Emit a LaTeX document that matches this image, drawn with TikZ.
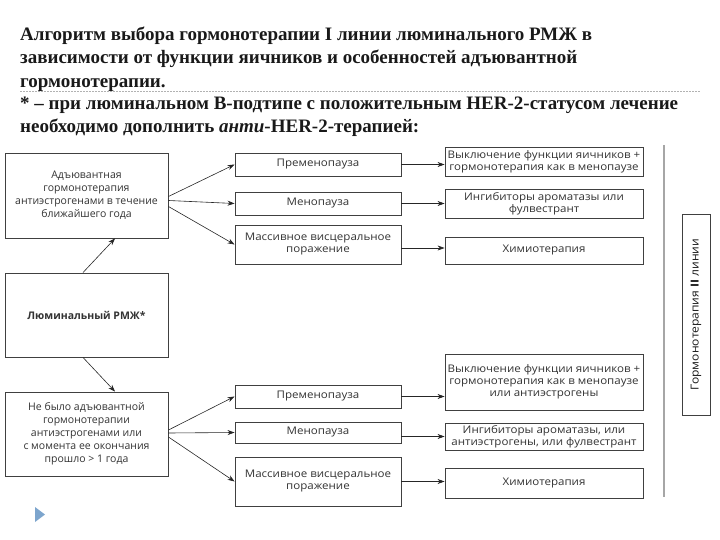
\documentclass[tikz,border=0pt]{standalone}
\usepackage{fontspec}
\setmainfont{Liberation Serif}
\newfontfamily\boxfont{Open Sans}
\newfontfamily\wideboxfont[FakeStretch=1.1]{Open Sans}
\usepackage{tikz}
\usetikzlibrary{arrows.meta}
\definecolor{navblue}{RGB}{125,165,205}
\tikzstyle{box}   = [draw=black!75, line width=0.9pt, fill=white, text=black!80, font=\wideboxfont\fontsize{10.5}{12}\selectfont, align=center, inner sep=1pt]
\tikzstyle{leftbox} = [box, font=\boxfont\fontsize{10.5}{13}\selectfont]
\tikzstyle{arrow} = [line width=0.6pt, black!85, -{Stealth[length=7pt,width=5pt]}]
\tikzstyle{heading} = [font=\bfseries\fontsize{19}{23.5}\selectfont, align=left, anchor=north west, inner sep=0pt, text=black!90]

\begin{document}
\begin{tikzpicture}[x=1pt,y=-1pt]
		\useasboundingbox (0,0) rectangle (720,540);

		% heading
		\node[heading] (title) at (20,26.5) {Алгоритм выбора гормонотерапии I линии люминального РМЖ в\\зависимости от функции яичников и особенностей адъювантной\\гормонотерапии.};
		\node[heading] (note) at (20,96.5) {* – при люминальном B-подтипе с положительным HER-2-статусом лечение\\необходимо дополнить \textit{анти}-HER-2-терапией:};
		\draw[gray!60, dash pattern=on 2pt off 1pt] (20,91) -- (700,91);

		% left column
		\node[leftbox, minimum width=163, minimum height=85] (adj) at (86.5,195.5) {Адъювантная\\гормонотерапия\\антиэстрогенами в течение\\ближайшего года};
		\node[leftbox, minimum width=163, minimum height=84] (lum) at (86.5,315) {\bfseries Люминальный РМЖ*};
		\node[leftbox, minimum width=163, minimum height=84] (noadj) at (86.5,434) {Не было адъювантной\\гормонотерапии\\антиэстрогенами или\\с момента ее окончания\\прошло > 1 года};

		% middle column
		\node[box, minimum width=166, minimum height=23] (pre1) at (318,164.5) {Пременопауза};
		\node[box, minimum width=166, minimum height=23] (men1) at (318,203.5) {Менопауза};
		\node[box, minimum width=166, minimum height=39] (mas1) at (318,244.5) {Массивное висцеральное\\поражение};
		\node[box, minimum width=166, minimum height=23] (pre2) at (318,396.5) {Пременопауза};
		\node[box, minimum width=166, minimum height=21] (men2) at (318,432.5) {Менопауза};
		\node[box, minimum width=166, minimum height=49] (mas2) at (318,481.5) {Массивное висцеральное\\поражение};

		% right column
		\node[box, minimum width=198, minimum height=29] (off1) at (544,161.5) {Выключение функции яичников +\\гормонотерапия как в менопаузе};
		\node[box, minimum width=198, minimum height=29] (ai1) at (544,203.5) {Ингибиторы ароматазы или\\фулвестрант};
		\node[box, minimum width=198, minimum height=27] (chem1) at (544,250.5) {Химиотерапия};
		\node[box, minimum width=198, minimum height=56] (off2) at (544,382) {Выключение функции яичников +\\гормонотерапия как в менопаузе\\или антиэстрогены};
		\node[box, minimum width=198, minimum height=27] (ai2) at (544,436.5) {Ингибиторы ароматазы, или\\антиэстрогены, или фулвестрант};
		\node[box, minimum width=198, minimum height=30] (chem2) at (544,483) {Химиотерапия};

		% second line
		\draw[gray!70, line width=2pt] (664,145) -- (664,497);
		\node[box, rotate=90, minimum width=201, minimum height=28, font=\wideboxfont\fontsize{11}{12}\selectfont, text=black!90] (second) at (696,314.5) {Гормонотерапия \textbf{II} линии};

		% arrows
		\draw[arrow] ([xshift=-3.5pt]lum.north) -- ([xshift=28.5pt]adj.south);
		\draw[arrow] ([xshift=-3.5pt]lum.south) -- ([xshift=28.5pt]noadj.north);

		\draw[arrow] ([yshift=-1pt]adj.east) -- (pre1.west);
		\draw[arrow] ([yshift=-5pt]adj.east) -- (men1.west);
		\draw[arrow] ([yshift=-11pt]adj.east) -- (mas1.west);
		\draw[arrow] ([yshift=4pt]noadj.east) -- (pre2.west);
		\draw[arrow] ([yshift=1pt]noadj.east) -- (men2.west);
		\draw[arrow] ([yshift=-3pt]noadj.east) -- (mas2.west);

		\draw[arrow] (pre1.east) -- (pre1.east -| off1.west);
		\draw[arrow] (men1.east) -- (men1.east -| ai1.west);
		\draw[arrow] ([yshift=-3.5pt]mas1.east) -- ([yshift=-3.5pt]mas1.east -| chem1.west);
		\draw[arrow] (pre2.east) -- (pre2.east -| off2.west);
		\draw[arrow] ([yshift=-4pt]men2.east) -- ([yshift=-4pt]men2.east -| ai2.west);
		\draw[arrow] (mas2.east) -- (mas2.east -| chem2.west);

		% slide marker
		\fill[navblue] (35,507) -- (45,514.5) -- (35,522) -- cycle;
	\end{tikzpicture}
\end{document}
